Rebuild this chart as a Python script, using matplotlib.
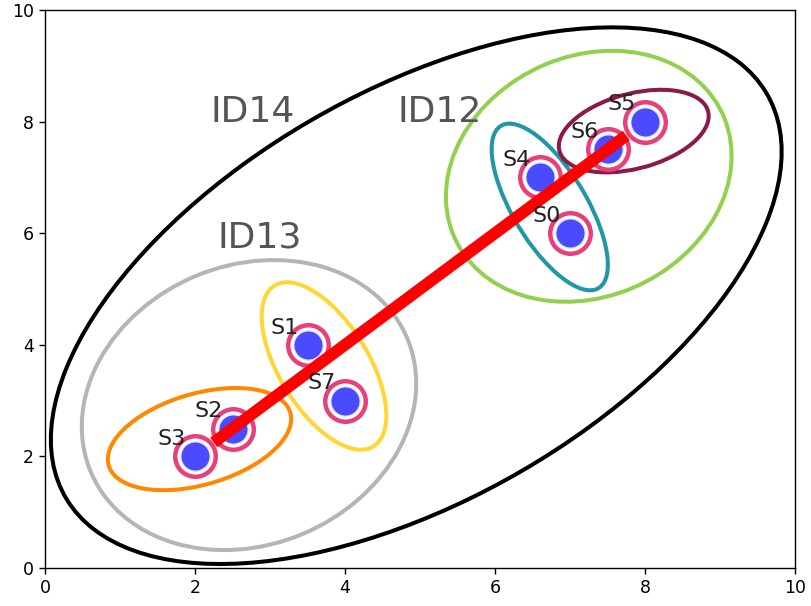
import matplotlib
matplotlib.use("Agg")
import matplotlib.pyplot as plt
from matplotlib.patches import Ellipse

# sample points
names = ["S0", "S1", "S2", "S3", "S4", "S5", "S6", "S7"]
xs = [7.0, 3.5, 2.5, 2.0, 6.6, 8.0, 7.5, 4.0]
ys = [6.0, 4.0, 2.5, 2.0, 7.0, 8.0, 7.5, 3.0]

# cluster ellipses: center x, center y, width, height, angle
ell_cx = [4.95, 2.72, 7.25, 6.73, 7.85, 2.06, 3.72]
ell_cy = [4.88, 2.92, 7.02, 6.47, 7.83, 2.31, 3.62]
ell_w = [12.0, 5.33, 4.62, 3.2, 2.12, 2.62, 3.19]
ell_h = [6.59, 4.3, 3.66, 1.04, 1.3, 1.57, 1.26]
ell_ang = [44.3, 68.0, 68.0, -67.7, 25.0, 26.7, -68.3]
ell_colors = ["#000000", "#b5b5b5", "#92d050", "#2196a6", "#8b1a4a", "#ff8800", "#ffd633"]

# cluster names
id_labels = ["ID14", "ID12", "ID13"]
id_x = [2.2, 4.7, 2.3]
id_y = [8.0, 8.0, 5.75]

# link between the two top clusters
link_x = [2.25, 7.75]
link_y = [2.25, 7.75]

fig = plt.figure(figsize=(8.11, 6.06), dpi=100)
ax = fig.add_axes([45 / 811, 38 / 606, 750 / 811, 558 / 606])

for cx, cy, w, h, a, c in zip(ell_cx, ell_cy, ell_w, ell_h, ell_ang, ell_colors):
    ax.add_patch(Ellipse((cx, cy), w, h, angle=a, fill=False, edgecolor=c, lw=2.9, zorder=2))

ax.plot(xs, ys, "o", ms=29.2, mfc="white", mec="#e8407a", mew=3.2, ls="none", zorder=3)
ax.plot(xs, ys, "o", ms=21.0, mfc="#4a4aff", mec="#e0e0ff", mew=0.8, ls="none", zorder=4)

ax.plot(link_x, link_y, color="red", lw=8.5, solid_capstyle="butt", zorder=5)

for n, x, y in zip(names, xs, ys):
    ax.text(x - 0.5, y + 0.2, n, fontsize=16, color="#222222", zorder=6)

for t, x, y in zip(id_labels, id_x, id_y):
    ax.text(x, y, t, fontsize=26, color="#555555", zorder=6)

ax.set_xlim(0, 10)
ax.set_ylim(0, 10)
ax.tick_params(labelsize=12.5, length=4.4, width=1.0)
for s in ax.spines.values():
    s.set_linewidth(1.0)

fig.savefig("out.png", dpi=100)
